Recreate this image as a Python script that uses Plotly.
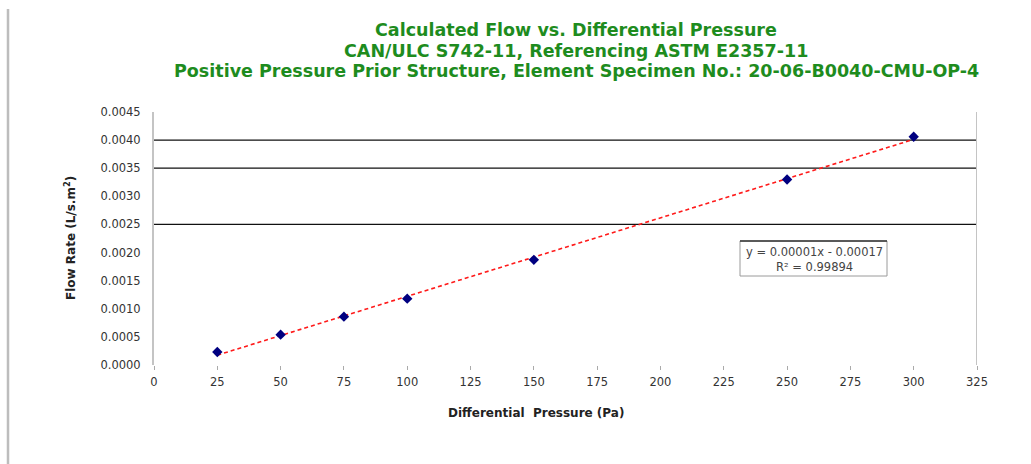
import numpy as np
import plotly.graph_objects as go

# Measured data
pressure_pa = [25, 50, 75, 100, 150, 250, 300]
flow_rate = [0.00023, 0.00054, 0.00086, 0.00118, 0.00187, 0.00330, 0.00406]

x_ticks = [0, 25, 50, 75, 100, 125, 150, 175, 200, 225, 250, 275, 300, 325]
y_ticks = [0.0, 0.0005, 0.0010, 0.0015, 0.0020, 0.0025, 0.0030, 0.0035, 0.0040, 0.0045]
ref_levels = [0.0025, 0.0035, 0.0040]

eq_text = "y = 0.00001x - 0.00017"
r2_text = "R² = 0.99894"

title_lines = [
    "Calculated Flow vs. Differential Pressure",
    "CAN/ULC S742-11, Referencing ASTM E2357-11",
    "Positive Pressure Prior Structure, Element Specimen No.: 20-06-B0040-CMU-OP-4",
]
x_title = "Differential  Pressure (Pa)"
y_title = "Flow Rate (L/s.m<sup>2</sup>)"

# Least-squares linear trend through the measured points
slope, intercept = np.polyfit(pressure_pa, flow_rate, 1)
trend_x = [min(pressure_pa), max(pressure_pa)]
trend_y = [slope * v + intercept for v in trend_x]

FONT = "DejaVu Sans, Liberation Sans, sans-serif"
GREEN = "#1e8c1e"

# Plot-area geometry in pixels (used to place paper-referenced items)
L, R, T, B = 154, 977, 112, 365
W, H = R - L, B - T


def px(x):
    return (x - L) / W


def py(y):
    return (B - y) / H


fig = go.Figure()

fig.add_trace(go.Scatter(
    x=trend_x, y=trend_y, mode="lines",
    line=dict(color="#ff1a1a", width=1.6, dash="4px,3px"),
    hoverinfo="skip", showlegend=False,
))
fig.add_trace(go.Scatter(
    x=pressure_pa, y=flow_rate, mode="markers",
    marker=dict(symbol="diamond", size=8, color="#000080"),
    showlegend=False,
))

# Horizontal reference lines
for lvl in ref_levels:
    fig.add_shape(type="line", xref="x", yref="y", x0=-2.6, x1=325, y0=lvl, y1=lvl,
                  line=dict(color="#111111", width=1.3), layer="below")

# Page border on the left
fig.add_shape(type="line", xref="paper", yref="paper",
              x0=px(8), x1=px(8), y0=py(470), y1=py(9),
              line=dict(color="#bdbdbd", width=2.5))

# Right frame line
fig.add_shape(type="line", xref="x", yref="paper", x0=325, x1=325, y0=0, y1=1,
              line=dict(color="#c4c4c4", width=2))

# Equation box
fig.add_shape(type="rect", xref="paper", yref="paper",
              x0=px(740), x1=px(887), y0=py(276), y1=py(241),
              line=dict(color="#9a9a9a", width=1), fillcolor="white")
fig.add_shape(type="line", xref="paper", yref="paper",
              x0=px(740), x1=px(887), y0=py(241), y1=py(241),
              line=dict(color="#333333", width=1.5))
fig.add_annotation(xref="paper", yref="paper", x=px(814), y=py(259),
                   text=eq_text + "<br>" + r2_text, showarrow=False,
                   font=dict(family=FONT, size=11.5, color="#444444"),
                   align="center", xanchor="center", yanchor="middle")

# Title block
for i, line in enumerate(title_lines):
    fig.add_annotation(xref="paper", yref="paper", x=px(576), y=py(30 + i * 20.5),
                       text="<b>" + line + "</b>", showarrow=False,
                       font=dict(family=FONT, size=17.5, color=GREEN),
                       xanchor="center", yanchor="middle")

# Axis titles
fig.add_annotation(xref="paper", yref="paper", x=px(536), y=py(413),
                   text="<b>" + x_title + "</b>", showarrow=False,
                   font=dict(family=FONT, size=12, color="#222222"),
                   xanchor="center", yanchor="middle")
fig.add_annotation(xref="paper", yref="paper", x=px(70), y=py(238),
                   text="<b>" + y_title + "</b>", showarrow=False, textangle=-90,
                   font=dict(family=FONT, size=12, color="#222222"),
                   xanchor="center", yanchor="middle")

fig.update_layout(
    width=1031, height=464,
    margin=dict(l=L, r=1031 - R, t=T, b=464 - B),
    paper_bgcolor="white", plot_bgcolor="white",
    font=dict(family=FONT, size=12, color="#333333"),
    showlegend=False,
)

fig.update_xaxes(
    range=[0, 325], tickvals=x_ticks, ticktext=[str(v) for v in x_ticks],
    showgrid=False, zeroline=False, showline=False,
    ticks="outside", ticklen=4, tickcolor="#aaaaaa", tickwidth=1,
    ticklabelstandoff=2,
    tickfont=dict(family=FONT, size=11.5, color="#333333"),
)
fig.update_yaxes(
    range=[0, 0.0045], tickvals=y_ticks, ticktext=[f"{v:.4f}" for v in y_ticks],
    showgrid=False, zeroline=False,
    showline=True, linecolor="#c4c4c4", linewidth=2,
    ticks="", ticklabelstandoff=9,
    tickfont=dict(family=FONT, size=11.5, color="#333333"),
)

fig.write_html("out.html")
